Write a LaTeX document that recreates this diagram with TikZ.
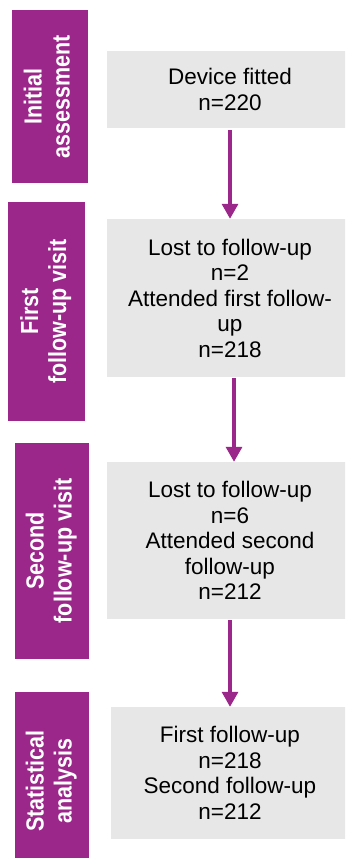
\documentclass[tikz,border=0pt]{standalone}
\usepackage{fontspec}
\setmainfont{Liberation Sans}
\usepackage{graphicx}
\usetikzlibrary{arrows.meta}

\definecolor{stagepurple}{RGB}{156,39,139}
\definecolor{boxgrey}{RGB}{231,231,231}
% vertical stage labels are drawn a bit stretched
\newcommand{\stagetext}[2]{\scalebox{1}[1.15]{\begin{tabular}{@{}c@{}}#1\\#2\end{tabular}}}

\begin{document}
\begin{tikzpicture}[x=1pt, y=-1pt, line join=round,
    stage/.style={fill=stagepurple, text=white, rotate=90, inner sep=0pt, font=\fontsize{21.5}{24.5}\selectfont\bfseries},
    count/.style={fill=boxgrey, inner sep=0pt, align=center, font=\fontsize{22.5}{25.5}\selectfont},
    flow/.style={-{Triangle[width=16pt,length=15pt]}, line width=3.2pt, color=stagepurple}]
    \useasboundingbox (0,0) rectangle (345,858);
    \clip (0,0) rectangle (345,858);
    % stages
    \node[stage, minimum width=173pt, minimum height=76pt] (initial) at (50,96.5) {\stagetext{Initial}{assessment}};
    \node[stage, minimum width=219pt, minimum height=77pt] (first) at (46.5,311.5) {\stagetext{First}{follow-up visit}};
    \node[stage, minimum width=216pt, minimum height=74pt] (second) at (52,551) {\stagetext{Second}{follow-up visit}};
    \node[stage, minimum width=178pt, minimum height=74pt] (stats) at (52,781) {\stagetext{Statistical}{analysis}};
    % counts
    \node[count, minimum width=246pt, minimum height=77pt] (fitted) at (230,89.5) {Device fitted\\n=220};
    \node[count, minimum width=246pt, minimum height=158pt] (visit1) at (230,298) {Lost to follow-up\\n=2\\Attended first follow-\\up\\n=218};
    \node[count, minimum width=246pt, minimum height=157pt] (visit2) at (230,540.5) {Lost to follow-up\\n=6\\Attended second\\follow-up\\n=212};
    \node[count, minimum width=238pt, minimum height=132pt] (result) at (230,773) {First follow-up\\n=218\\Second follow-up\\n=212};
    % arrows
    \draw[flow] ([yshift=-2pt]fitted.south) -- (visit1.north);
    \draw[flow] ([xshift=4pt, yshift=-1pt]visit1.south) -- ([xshift=4pt]visit2.north);
    \draw[flow] ([yshift=-1pt]visit2.south) -- (result.north);
\end{tikzpicture}
\end{document}
